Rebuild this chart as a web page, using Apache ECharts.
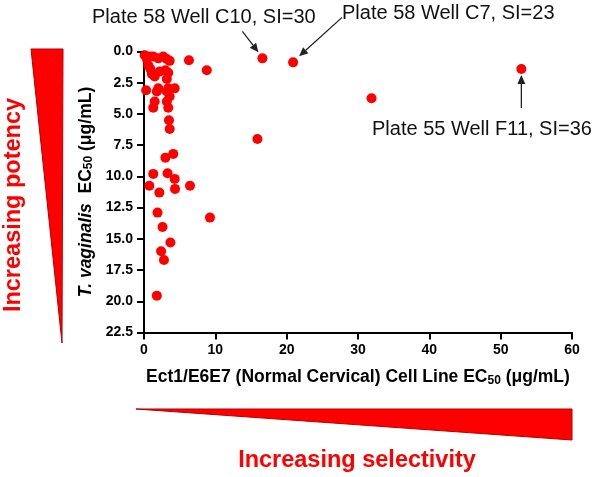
<!DOCTYPE html>
<html>
<head>
<meta charset="utf-8">
<script src="https://cdn.jsdelivr.net/npm/echarts@6/dist/echarts.min.js"></script>
<style>
  html, body { margin: 0; padding: 0; background: #fff; }
  #container { width: 600px; height: 477px; }
</style>
</head>
<body>
<div id="container"></div>
<script>
/* data */
const ect1Ec50 = [0.1, 0.4, 0.8, 0.6, 1.3, 2.0, 2.7, 3.2, 3.6, 0.9, 1.1, 1.5, 2.2, 3.0, 3.4, 3.2, 6.3, 8.8,
  16.6, 20.9, 52.9, 31.9, 15.9,
  0.3, 1.8, 2.0, 3.2, 3.6, 4.3, 3.4, 1.5, 1.3, 3.2, 3.4, 3.5, 3.6, 3.0, 4.1, 1.3, 3.3, 4.3, 0.75,
  2.15, 4.35, 6.45, 1.9, 9.25, 2.6, 3.7, 2.4, 2.8, 1.8];
const tvagEc50 = [0.3, 0.6, 0.4, 1.1, 0.4, 0.55, 0.4, 0.6, 0.75, 1.4, 1.8, 2.0, 1.6, 1.5, 1.7, 2.2, 0.7, 1.5,
  0.55, 0.87, 1.4, 3.75, 7.0,
  3.1, 3.2, 2.95, 3.2, 3.6, 2.95, 2.95, 4.0, 4.5, 4.0, 4.5, 5.5, 6.2, 8.5, 8.2, 9.8, 9.75, 10.2, 10.75,
  11.3, 11.0, 10.75, 12.9, 13.3, 14.05, 15.3, 16.0, 16.7, 19.55];

const xTicks = [0, 10, 20, 30, 40, 50, 60];
const yTicks = [0, 2.5, 5, 7.5, 10, 12.5, 15, 17.5, 20, 22.5];

const noteText = ['Plate 58 Well C10, SI=30', 'Plate 58 Well C7, SI=23', 'Plate 55 Well F11, SI=36'];
const noteX = [16.6, 20.9, 52.9];
const noteY = [0.55, 0.87, 1.4];

const FONT = 'Arial, "Liberation Sans", sans-serif';
const points = ect1Ec50.map((v, i) => [v, tvagEc50[i]]);

const dom = document.getElementById('container');
const myChart = echarts.init(dom);

const subStyle = { fontSize: 12, fontWeight: 'bold', fontFamily: FONT, color: '#000', verticalAlign: 'bottom', lineHeight: 12, padding: [9, 0, 0, 0] };

const option = {
    animation: false,
    grid: { left: 144, right: 28, top: 51.5, bottom: 144.5 },
    xAxis: {
        type: 'value',
        min: xTicks[0],
        max: xTicks[xTicks.length - 1],
        interval: 10,
        splitLine: { show: false },
        axisLine: { onZero: false, lineStyle: { color: '#000', width: 2 } },
        axisTick: { show: true, length: 7, lineStyle: { color: '#000', width: 2 } },
        axisLabel: { color: '#000', fontWeight: 'bold', fontSize: 14, fontFamily: FONT, margin: 11 },
        name: 'Ect1/E6E7 (Normal Cervical) Cell Line EC{s|50} (μg/mL)',
        nameLocation: 'middle',
        nameGap: 36,
        nameTextStyle: {
            color: '#000', fontWeight: 'bold', fontSize: 17.5, fontFamily: FONT,
            rich: { s: subStyle }
        }
    },
    yAxis: {
        type: 'value',
        inverse: true,
        min: yTicks[0],
        max: yTicks[yTicks.length - 1],
        interval: 2.5,
        splitLine: { show: false },
        axisLine: { onZero: false, lineStyle: { color: '#000', width: 2 } },
        axisTick: { show: true, length: 7, lineStyle: { color: '#000', width: 2 } },
        axisLabel: {
            color: '#000', fontWeight: 'bold', fontSize: 14, fontFamily: FONT, margin: 11,
            formatter: v => v.toFixed(1)
        },
        name: '{i|T. vaginalis}  EC{s|50} (μg/mL)',
        nameLocation: 'middle',
        nameGap: 48,
        nameRotate: 90,
        nameTextStyle: {
            color: '#000', fontWeight: 'bold', fontSize: 17.5, fontFamily: FONT,
            rich: {
                i: { fontStyle: 'italic', fontWeight: 'bold', fontSize: 17.5, fontFamily: FONT, color: '#000' },
                s: subStyle
            }
        }
    },
    series: [{
        type: 'scatter',
        data: points,
        symbol: 'circle',
        symbolSize: 10,
        itemStyle: { color: '#ff0000', opacity: 1 },
        z: 3
    }]
};
myChart.setOption(option, true);

// 装饰三角形 + 注释箭头
function arrow(sx, sy, ex, ey) {
    const dx = ex - sx, dy = ey - sy;
    const len = Math.sqrt(dx * dx + dy * dy);
    const ux = dx / len, uy = dy / len;
    const bx = ex - ux * 9, by = ey - uy * 9;
    return [
        { type: 'line', shape: { x1: sx, y1: sy, x2: bx, y2: by }, style: { stroke: '#222', lineWidth: 1.3 }, z: 10 },
        { type: 'polygon', shape: { points: [[ex, ey], [bx - uy * 4, by + ux * 4], [bx + uy * 4, by - ux * 4]] }, style: { fill: '#222' }, z: 10 }
    ];
}

const p = noteX.map((v, i) => myChart.convertToPixel({ gridIndex: 0 }, [v, noteY[i]]));
const offs = [[-20, -27, -4, -6], [49, -45, 6, -6], [0, 39, 0, 6]];

let elements = [
    { type: 'polygon', shape: { points: [[31, 49], [63, 49], [62, 343]] }, style: { fill: '#ff0000', stroke: '#b00000', lineWidth: 1 } },
    { type: 'polygon', shape: { points: [[136, 409], [572, 409], [572, 440]] }, style: { fill: '#ff0000', stroke: '#b00000', lineWidth: 1 } },
    {
        type: 'text', x: 14, y: 205, rotation: Math.PI / 2,
        style: { text: 'Increasing potency', fill: '#ff0000', font: 'bold 23.5px ' + FONT, align: 'center', verticalAlign: 'middle' }
    },
    {
        type: 'text', x: 357, y: 461,
        style: { text: 'Increasing selectivity', fill: '#ff0000', font: 'bold 23.5px ' + FONT, align: 'center', verticalAlign: 'middle' }
    },
    { type: 'text', x: 92, y: 17, style: { text: noteText[0], fill: '#111', font: '20px ' + FONT, align: 'left', verticalAlign: 'middle' } },
    { type: 'text', x: 342, y: 13, style: { text: noteText[1], fill: '#111', font: '20px ' + FONT, align: 'left', verticalAlign: 'middle' } },
    { type: 'text', x: 372, y: 129, style: { text: noteText[2], fill: '#111', font: '20px ' + FONT, align: 'left', verticalAlign: 'middle' } }
];
p.forEach((pt, i) => {
    const o = offs[i];
    elements = elements.concat(arrow(pt[0] + o[0], pt[1] + o[1], pt[0] + o[2], pt[1] + o[3]));
});

myChart.setOption({ graphic: { elements: elements } });
</script>
</body>
</html>
